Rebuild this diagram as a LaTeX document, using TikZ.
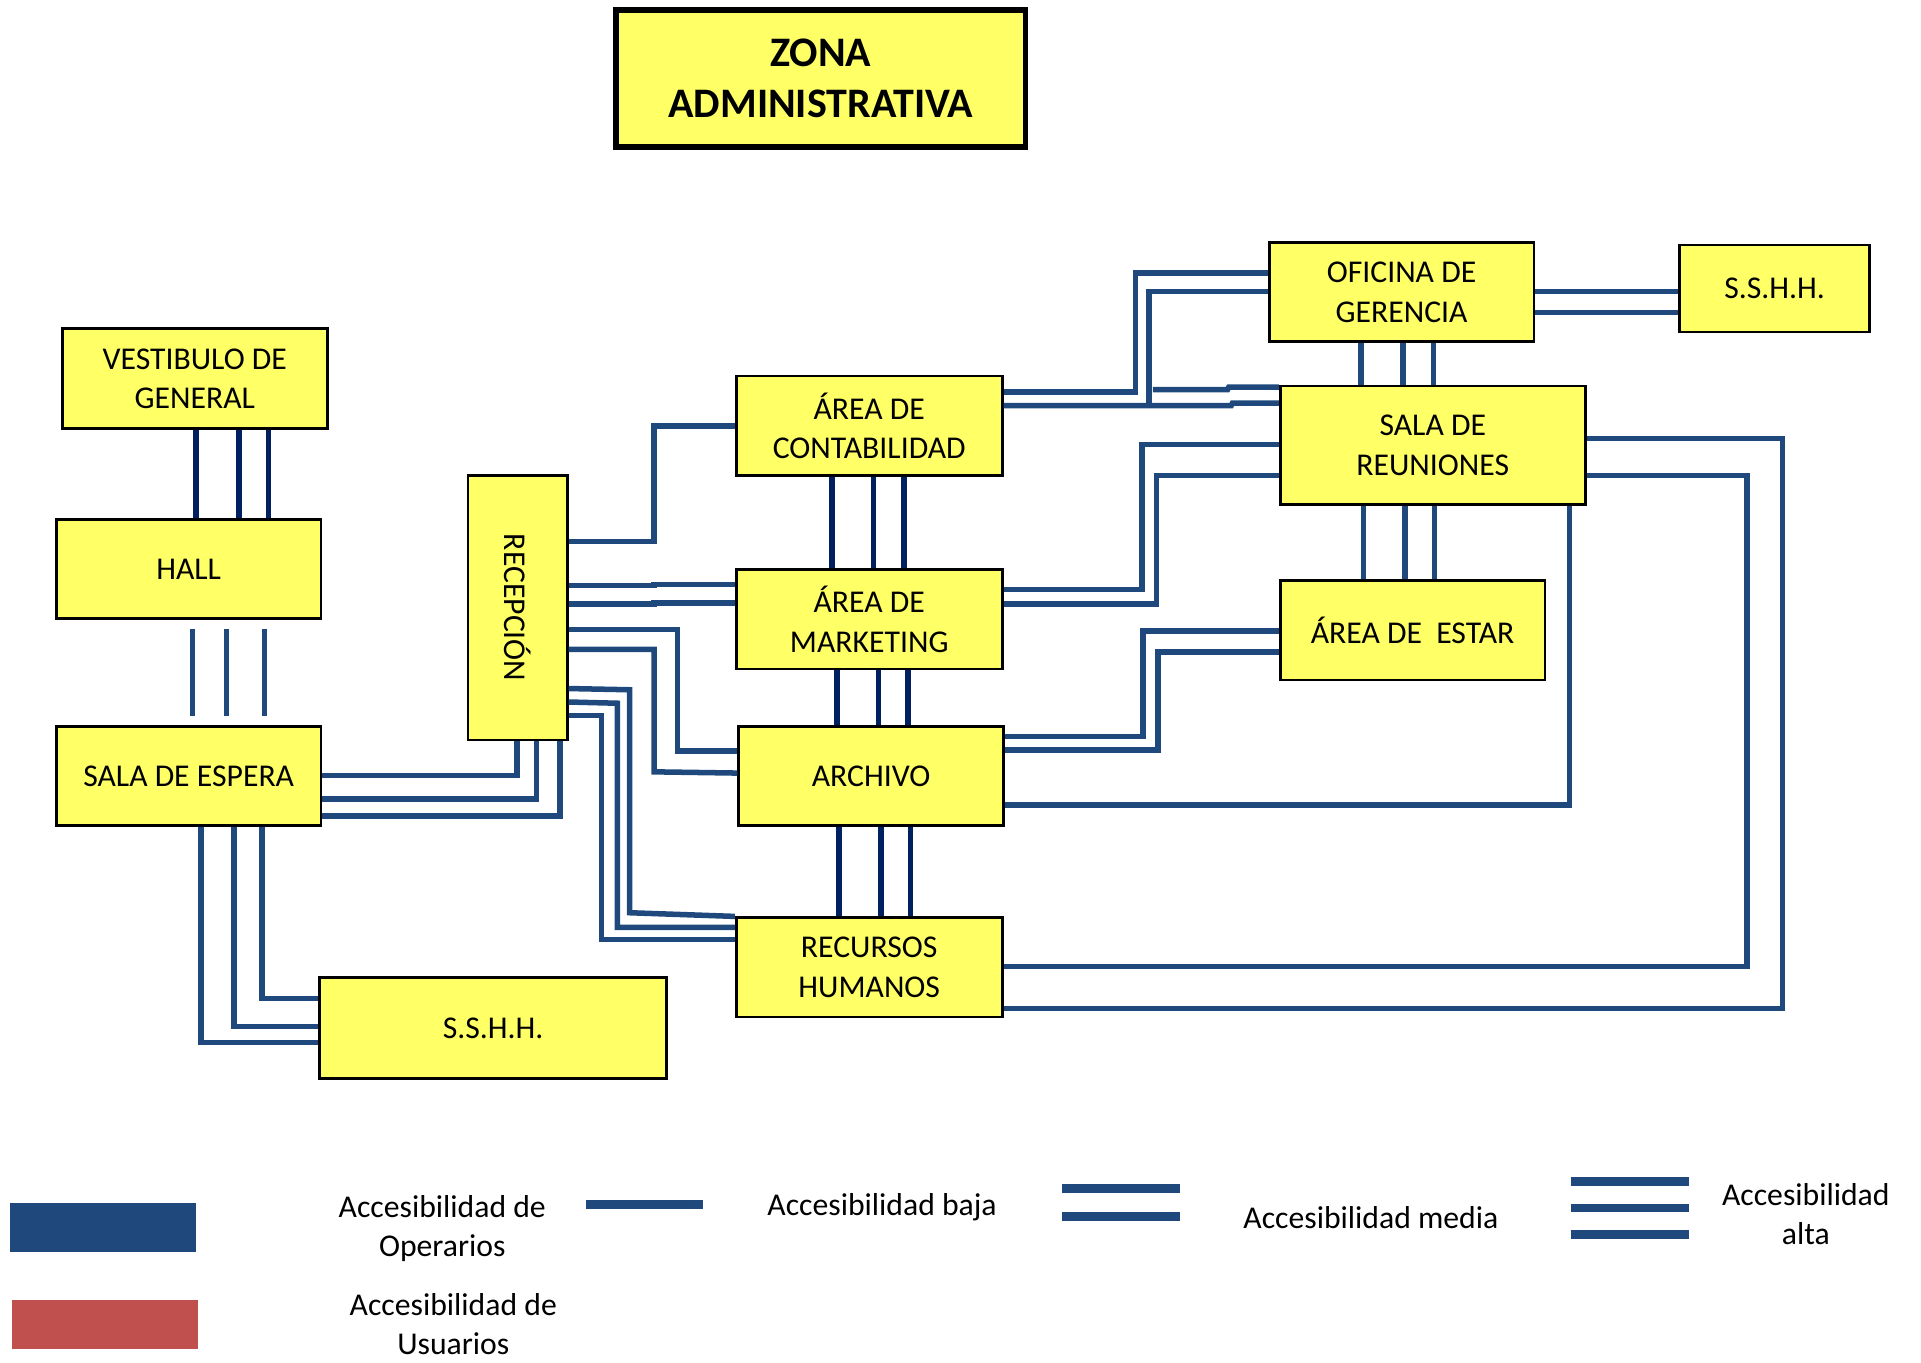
\documentclass[tikz,border=0pt]{standalone}
\usepackage{fontspec}
\setmainfont{Carlito}
\usetikzlibrary{calc}
\definecolor{boxyellow}{RGB}{255,255,102}
\definecolor{lineblue}{RGB}{31,73,125}
\definecolor{navyline}{RGB}{0,32,96}
\definecolor{legred}{RGB}{192,80,77}
\begin{document}
\begin{tikzpicture}[x=0.0125cm,y=-0.0125cm,
  box/.style={draw=black, fill=boxyellow, line width=0.8pt, inner sep=0pt, align=center,
    font=\fontsize{9.2}{11.4}\selectfont, minimum width=2.7cm, minimum height=1.0125cm},
  conn/.style={draw=lineblue, line width=1.6pt},
  navyconn/.style={draw=navyline, line width=1.6pt},
  legline/.style={draw=lineblue, line width=2.6pt},
  legtext/.style={align=center, font=\fontsize{9.2}{11.4}\selectfont, inner sep=0pt}]
\useasboundingbox (0,0) rectangle (1568,1112);

% ---------- boxes ----------
\node[box, line width=1.7pt, minimum width=4.175cm, minimum height=1.4cm,
  font=\bfseries\fontsize{12.2}{14.6}\selectfont] (title) at (670,64) {ZONA\\ADMINISTRATIVA};
\node[box, minimum height=1.025cm] (vest) at (159,309) {VESTIBULO DE\\GENERAL};
\node[box] (hall) at (154,464.5) {HALL};
\node[box] (espera) at (154,633.5) {SALA DE ESPERA};
\node[box, minimum width=3.5375cm, minimum height=1.025cm] (sshhA) at (402.5,839) {S.S.H.H.};
\node[box, minimum width=1.0125cm, minimum height=2.7cm] (recep) at (422.5,496) {\rotatebox{-90}{RECEPCIÓN}};
\node[box, minimum width=2.7125cm] (conta) at (709.5,347.5) {ÁREA DE\\CONTABILIDAD};
\node[box, minimum width=2.7125cm] (mark) at (709.5,505.5) {ÁREA DE\\MARKETING};
\node[box] (arch) at (711,633.5) {ARCHIVO};
\node[box, minimum width=2.7125cm] (rrhh) at (709.5,789.5) {RECURSOS\\HUMANOS};
\node[box] (geren) at (1144,238.5) {OFICINA DE\\GERENCIA};
\node[box, minimum width=1.9375cm, minimum height=0.8875cm] (sshhB) at (1448.5,235.5) {S.S.H.H.};
\node[box, minimum width=3.1125cm, minimum height=1.2125cm] (reun) at (1169.5,363.5) {SALA DE\\REUNIONES};
\node[box] (estar) at (1153,514.5) {ÁREA DE~ ESTAR};

% ---------- triple vertical links ----------
\foreach \xx in {160,195,219} \draw[navyconn] (vest.south -| \xx,0) -- (hall.north -| \xx,0);
\foreach \xx in {157,185,216} \draw[conn, shorten <=0.09cm, shorten >=0.09cm] (hall.south -| \xx,0) -- (espera.north -| \xx,0);
\foreach \xx in {679,713,738} \draw[navyconn] (conta.south -| \xx,0) -- (mark.north -| \xx,0);
\foreach \xx in {683,717,741} \draw[navyconn] (mark.south -| \xx,0) -- (arch.north -| \xx,0);
\foreach \xx in {685,719,743} \draw[navyconn] (arch.south -| \xx,0) -- (rrhh.north -| \xx,0);
\foreach \xx in {1111,1145,1170} \draw[conn] (geren.south -| \xx,0) -- (reun.north -| \xx,0);
\foreach \xx in {1113,1147,1171} \draw[conn] (reun.south -| \xx,0) -- (estar.north -| \xx,0);

% ---------- gerencia - s.s.h.h. ----------
\foreach \yy in {238,255} \draw[conn] (geren.east |- 0,\yy) -- (sshhB.west |- 0,\yy);

% ---------- recepcion links ----------
\draw[conn] (recep.east |- 0,442) -- (534,442) |- (conta.west);
\draw[conn] (recep.east |- 0,478) -- (534,478) -- (534,477) -- (mark.west |- 0,477);
\draw[conn] (recep.east |- 0,493) -- (534,493) -- (534,492) -- (mark.west |- 0,492);
\draw[conn] (recep.east |- 0,514) -| (553,613) -- (arch.west |- 0,613);
\draw[conn] (recep.east |- 0,530) -| (534,630) -- (arch.west |- 0,631);
\draw[conn] (recep.east |- 0,562) -- (514,563) -- (514,745) -- (rrhh.west |- 0,748);
\draw[conn] (recep.east |- 0,573) -- (504,574) -- (504,757) -- (rrhh.west |- 0,757);
\draw[conn] (recep.east |- 0,584) -| (491,767) -- (rrhh.west |- 0,767);

% ---------- sala de espera links ----------
\draw[conn] (espera.east |- 0,633) -| (recep.south -| 422,0);
\draw[conn] (espera.east |- 0,652) -| (recep.south -| 438,0);
\draw[conn] (espera.east |- 0,666) -| (recep.south -| 457,0);
\draw[conn] (espera.south -| 214,0) |- (sshhA.west |- 0,815);
\draw[conn] (espera.south -| 191,0) |- (sshhA.west |- 0,838);
\draw[conn] (espera.south -| 164,0) |- (sshhA.west |- 0,851);

% ---------- contabilidad links ----------
\draw[conn] (conta.east |- 0,320) -| (927,223) -- (geren.west |- 0,223);
\draw[conn] (conta.east |- 0,331) -| (938,238) -- (geren.west |- 0,238);
\coordinate (branch) at (941,318);
\draw[conn] (branch) -- (1002,318) -- (1003,316) -- (reun.west |- 0,316);
\draw[conn] (conta.east |- 0,331) -- (1005,331) -- (1006,329) -- (reun.west |- 0,329);

% ---------- marketing / archivo / rrhh links ----------
\draw[conn] (mark.east |- 0,481) -| (932,363) -- (reun.west |- 0,363);
\draw[conn] (mark.east |- 0,493) -| (944,388) -- (reun.west |- 0,388);
\draw[conn] (arch.east |- 0,601) -| (933,515) -- (estar.west |- 0,515);
\draw[conn] (arch.east |- 0,612) -| (945,532) -- (estar.west |- 0,532);
\draw[conn] (arch.east |- 0,657) -| (reun.south -| 1281,0);
\draw[conn] (rrhh.east |- 0,789) -| (1426,388) -- (reun.east |- 0,388);
\draw[conn] (rrhh.east |- 0,823) -| (1455,358) -- (reun.east |- 0,358);

% ---------- legend ----------
\fill[lineblue] (8,982) rectangle (160,1022);
\fill[legred] (10,1061) rectangle (162,1101);
\node[legtext] (lgop) at (361,1003) {Accesibilidad de\\Operarios};
\node[legtext] (lgus) at (370,1081) {Accesibilidad de\\Usuarios};
\draw[legline] (478,983) -- (574,983);
\node[legtext] (lgbaja) at (720,985) {Accesibilidad baja};
\draw[legline] (867,970) -- (963,970);
\draw[legline] (867,993) -- (963,993);
\node[legtext] (lgmedia) at (1119,994) {Accesibilidad media};
\draw[legline] (1282,964) -- (1379,964);
\draw[legline] (1282,986) -- (1379,986);
\draw[legline] (1282,1008) -- (1379,1008);
\node[legtext] (lgalta) at (1474,991) {Accesibilidad\\alta};
\end{tikzpicture}
\end{document}
